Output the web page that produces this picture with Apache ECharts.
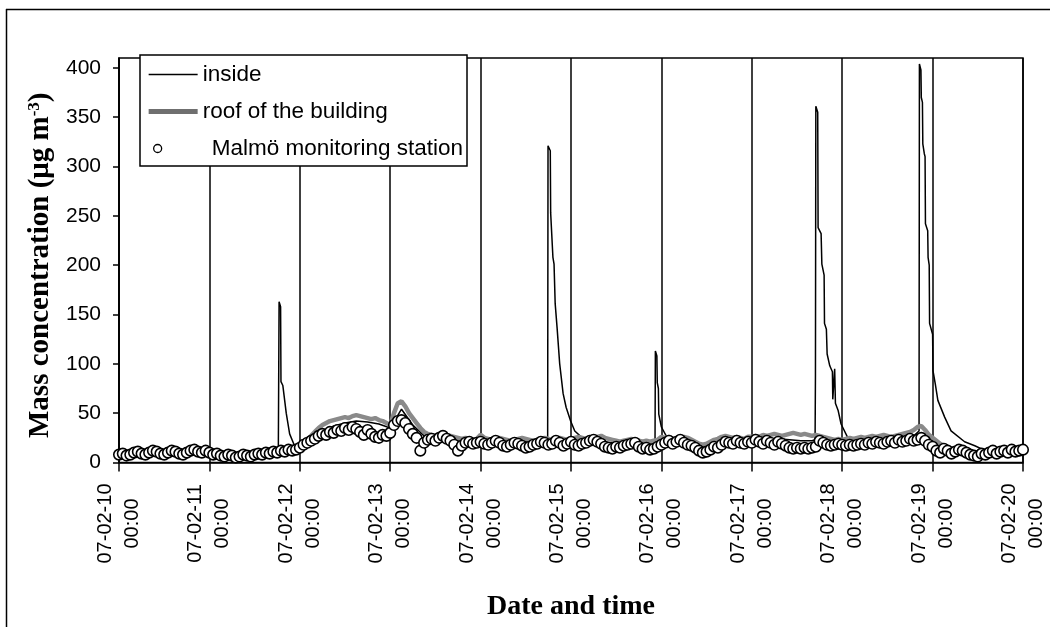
<!DOCTYPE html>
<html>
<head>
<meta charset="utf-8">
<script src="https://cdn.jsdelivr.net/npm/echarts@6/dist/echarts.min.js"></script>
<style>
  html, body { margin: 0; padding: 0; background: #fff; }
  #chart { width: 1050px; height: 627px; }
</style>
</head>
<body>
<div id="chart"></div>
<script>
// Time axis runs in hours from 07-02-10 00:00; one labelled tick per day.
const tickLabels = [
  '07-02-10\n00:00', '07-02-11\n00:00', '07-02-12\n00:00', '07-02-13\n00:00',
  '07-02-14\n00:00', '07-02-15\n00:00', '07-02-16\n00:00', '07-02-17\n00:00',
  '07-02-18\n00:00', '07-02-19\n00:00', '07-02-20\n00:00'
];
const hoursPerDay = 24;

const seriesNames = ['inside', 'roof of the building', 'Malmö monitoring station'];

// Malmö monitoring station, hourly (µg m-3), 07-02-10 00:00 .. 07-02-20 00:00
const malmoValues = [
  8, 9, 7, 8, 10, 11, 9, 8, 10, 12, 11, 9, 8, 10, 12, 11, 9, 8, 10, 12, 13, 11, 10, 12,
  10, 8, 9, 7, 6, 8, 7, 5, 6, 8, 7, 6, 8, 9, 8, 10, 9, 11, 10, 12, 11, 13, 12, 13,
  15, 18, 20, 22, 24, 27, 29, 28, 31, 30, 33, 32, 35, 33, 36, 34, 31, 28, 33, 29, 26, 25, 28, 27,
  30, 38, 42, 43, 40, 34, 29, 25, 12, 20, 23, 24, 22, 25, 27, 24, 22, 18, 12, 17, 20, 21, 19, 20,
  21, 19, 18, 20, 22, 20, 17, 16, 18, 20, 19, 17, 15, 16, 18, 19, 21, 20, 18, 19, 22, 20, 17, 19,
  21, 18, 17, 19, 20, 22, 23, 21, 19, 16, 15, 14, 16, 15, 17, 18, 19, 20, 16, 14, 15, 13, 14, 16,
  18, 20, 22, 19, 21, 23, 20, 18, 17, 15, 12, 10, 11, 13, 16, 15, 18, 21, 20, 19, 22, 20, 19, 21,
  20, 23, 21, 19, 22, 20, 18, 21, 19, 17, 15, 14, 15, 14, 15, 14, 15, 16, 22, 20, 18, 17, 18, 19,
  18, 17, 18, 17, 18, 19, 18, 20, 19, 21, 20, 19, 21, 22, 20, 23, 21, 22, 24, 22, 23, 25, 22, 18,
  16, 12, 10, 14, 12, 9, 11, 13, 12, 10, 8, 7, 6, 9, 8, 10, 12, 9, 11, 12, 10, 13, 11, 12, 13
];

// Roof of the building, hourly (µg m-3)
const roofValues = [
  9, 10, 9, 10, 11, 12, 11, 10, 11, 12, 12, 11, 10, 11, 12, 12, 11, 10, 11, 12, 13, 12, 12, 13,
  12, 11, 10, 9, 8, 9, 8, 7, 8, 9, 9, 8, 9, 10, 10, 11, 11, 12, 12, 13, 13, 14, 14, 15,
  17, 20, 23, 27, 31, 35, 38, 40, 42, 43, 44, 45, 46, 45, 47, 48, 47, 46, 45, 44, 45, 43, 42, 40,
  38, 50, 60, 62, 57, 50, 45, 40, 35, 31, 29, 28, 27, 28, 29, 28, 27, 26, 25, 24, 25, 24, 23, 24,
  28, 25, 24, 23, 24, 25, 24, 23, 22, 23, 24, 25, 24, 23, 22, 23, 24, 25, 24, 23, 24, 25, 24, 23,
  24, 25, 26, 25, 24, 23, 25, 26, 27, 25, 24, 23, 22, 21, 22, 23, 24, 23, 22, 21, 22, 21, 22, 23,
  26, 25, 26, 24, 23, 25, 26, 25, 23, 21, 19, 18, 19, 21, 23, 24, 26, 27, 26, 25, 26, 25, 24, 26,
  26, 27, 26, 28, 27, 28, 29, 28, 27, 28, 29, 30, 29, 28, 29, 28, 27, 28, 27, 26, 25, 24, 23, 24,
  23, 24, 25, 24, 25, 26, 25, 26, 27, 26, 27, 28, 27, 26, 27, 28, 29, 30, 31, 33, 36, 37, 33, 28,
  25, 22, 19, 17, 15, 14, 13, 12, 12, 11, 10, 10, 9, 9, 10, 10, 11, 11, 12, 12, 12, 13, 13, 12, 12
];

// Inside readings as [hours since start, µg m-3]
const insideReadings = [
  [0, 6], [3, 7], [6, 8], [9, 9], [12, 8], [15, 9], [18, 8], [21, 10], [24, 9], [27, 7], [30, 6],
  [33, 7], [36, 7], [39, 9], [42.3, 11],
  [42.5, 163], [42.9, 158], [43.0, 82], [43.5, 78], [44.4, 50], [45.3, 29], [46.6, 17], [47.7, 13],
  [51, 20], [54, 31], [57, 37], [60, 40], [63, 42], [66, 41], [69, 39], [72, 35], [75, 54], [78, 38],
  [81, 27], [84, 24], [87, 24], [90, 22], [93, 21], [96, 22], [99, 21], [102, 21], [105, 20],
  [108, 21], [111, 20], [113.8, 18],
  [113.9, 321], [114.5, 316], [114.6, 253], [115.2, 208], [115.5, 201], [115.8, 161], [116.3, 137],
  [117.0, 100], [117.9, 70], [118.7, 56], [119.9, 42], [121.0, 32], [122.7, 26], [125.4, 21],
  [128, 21], [131, 20], [134, 19], [137, 20], [140, 19], [142.3, 16],
  [142.4, 113], [142.8, 108], [142.9, 81], [143.2, 75], [143.3, 49], [144.0, 36], [145.7, 24], [148.4, 19],
  [151, 20], [154, 17], [157, 16], [160, 20], [163, 21], [166, 20], [169, 21], [172, 22], [175, 24],
  [178, 23], [181, 22], [184, 22], [184.8, 23],
  [184.9, 90], [185.0, 361], [185.5, 355], [185.6, 238], [186.4, 232], [186.6, 201], [187.2, 190],
  [187.3, 141], [187.8, 135], [188.0, 110], [188.7, 98], [189.4, 92], [189.5, 64], [189.9, 62],
  [190.0, 95], [190.2, 60], [190.9, 53], [191.7, 39], [193.5, 25], [196.2, 20],
  [199, 21], [202, 22], [205, 22], [208, 23], [211, 27], [212.4, 32],
  [212.5, 404], [212.9, 398], [213.0, 370], [213.3, 365], [213.4, 323], [213.8, 313], [214.0, 310],
  [214.1, 242], [214.7, 235], [214.8, 208], [215.1, 200], [215.2, 141], [216.0, 130], [216.1, 93],
  [216.7, 80], [217.4, 63], [219.2, 46], [220.9, 32], [224.5, 21], [227.2, 17], [230, 12],
  [233, 11], [236, 10], [240, 11]
];

const yTicks = { min: 0, max: 410, step: 50 };

const sans = '"Liberation Sans", Arial, sans-serif';
const serif = '"Liberation Serif", "Times New Roman", serif';

const chart = echarts.init(document.getElementById('chart'), null, { renderer: 'canvas' });

chart.setOption({
  animation: false,
  backgroundColor: '#fff',
  graphic: [
    { type: 'line', shape: { x1: 6, y1: 9.5, x2: 1050, y2: 9.5 }, style: { stroke: '#000', lineWidth: 1.5 } },
    { type: 'line', shape: { x1: 6.5, y1: 9, x2: 6.5, y2: 627 }, style: { stroke: '#000', lineWidth: 1.5 } }
  ],
  grid: {
    left: 119, right: 26, top: 58, bottom: 164.5,
    show: true, borderColor: '#000', borderWidth: 1.5, backgroundColor: 'transparent'
  },
  legend: {
    orient: 'vertical',
    left: 140, top: 55,
    padding: [8, 4, 6, 8],
    itemWidth: 49, itemHeight: 20, itemGap: 14,
    backgroundColor: '#fff',
    borderColor: '#000', borderWidth: 1.5, borderRadius: 0,
    textStyle: { fontFamily: sans, fontSize: 22.5, color: '#000' },
    data: [
      { name: seriesNames[0], icon: 'path://M0 0h49v1.5h-49z', itemStyle: { color: '#000', borderWidth: 0 } },
      { name: seriesNames[1], icon: 'path://M0 0h49v5h-49z', itemStyle: { color: '#6f6f6f', borderWidth: 0 } },
      { name: seriesNames[2], icon: 'path://M0 0M49 20M5 10a4 4 0 1 0 8 0a4 4 0 1 0 -8 0z',
        itemStyle: { color: '#fff', borderColor: '#000', borderWidth: 1.3 },
        textStyle: { padding: [0, 0, 0, 9] } }
    ]
  },
  xAxis: {
    type: 'value',
    min: 0, max: hoursPerDay * (tickLabels.length - 1), interval: hoursPerDay,
    name: 'Date and time',
    nameLocation: 'middle', nameGap: 130,
    nameTextStyle: { fontFamily: serif, fontWeight: 'bold', fontSize: 28, color: '#000' },
    axisLine: { onZero: false, lineStyle: { color: '#000', width: 1.5 } },
    axisTick: { show: true, inside: false, length: 9, lineStyle: { color: '#000', width: 1.5 } },
    splitLine: { show: true, lineStyle: { color: '#000', width: 1.5 } },
    axisLabel: {
      rotate: 90, margin: 61, align: 'center', verticalAlign: 'middle',
      fontFamily: sans, fontSize: 20, lineHeight: 27, color: '#000',
      showMinLabel: true, showMaxLabel: true,
      formatter: v => tickLabels[Math.round(v / hoursPerDay)] || ''
    }
  },
  yAxis: {
    type: 'value',
    min: yTicks.min, max: yTicks.max, interval: yTicks.step,
    name: 'Mass concentration (μg m{sup|-3})',
    nameLocation: 'middle', nameGap: 62,
    nameTextStyle: {
      fontFamily: serif, fontWeight: 'bold', fontSize: 29, color: '#000',
      padding: [0, 10, 0, 0],
      rich: { sup: { fontFamily: serif, fontWeight: 'bold', fontSize: 17, verticalAlign: 'top', padding: [0, 0, 12, 0] } }
    },
    axisLine: { show: true, lineStyle: { color: '#000', width: 1.5 } },
    axisTick: { show: true, inside: false, length: 6, lineStyle: { color: '#000', width: 1.5 } },
    splitLine: { show: false },
    axisLabel: {
      margin: 18, fontFamily: sans, fontSize: 21, color: '#000',
      showMaxLabel: false
    }
  },
  series: [
    {
      name: seriesNames[0], type: 'line', data: insideReadings,
      symbol: 'none', z: 2,
      itemStyle: { color: '#000' },
      lineStyle: { color: '#000', width: 1.5 }
    },
    {
      name: seriesNames[1], type: 'line',
      data: roofValues.map((v, i) => [i, v]),
      symbol: 'none', z: 3,
      itemStyle: { color: '#8a8a8a' },
      lineStyle: { color: '#8a8a8a', width: 4.5 }
    },
    {
      name: seriesNames[2], type: 'scatter',
      data: malmoValues.map((v, i) => [i, v]),
      symbol: 'circle', symbolSize: 10.5, z: 4,
      itemStyle: { color: '#fff', borderColor: '#000', borderWidth: 1.6, opacity: 1 }
    }
  ]
});
</script>
</body>
</html>
